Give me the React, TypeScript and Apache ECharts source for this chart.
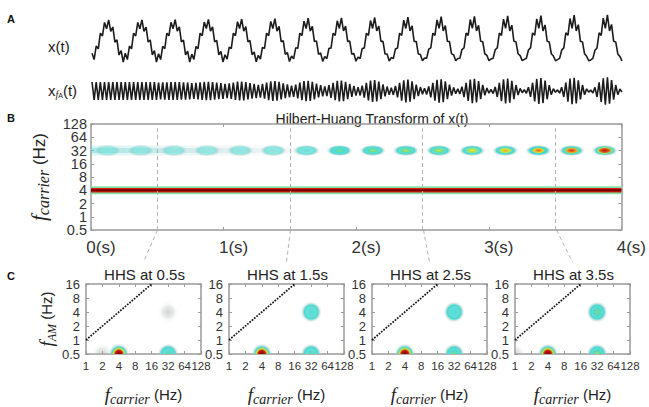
import React, { useEffect, useRef } from 'react';
import * as echarts from 'echarts';

// ---------------- data ----------------
// Panel A: one entry per 4 Hz cycle (16 cycles over 4 s)
const cycleLength = 0.25; // s
const halfCarrier = 1 / 64; // s between carrier extremes (32 Hz)
const slowAmp = [17, 17, 17.2, 17.4, 17.6, 17.8, 18, 18.2, 18.4, 18.6, 18.8, 19, 19.2, 19.4, 19.6, 19.8];
const fastMax = [9, 9, 9, 9.2, 9.5, 10, 10.3, 10.6, 11, 11.4, 11.8, 12.2, 12.6, 13, 13.4, 13.8];
const fastMin = [9, 8.8, 8.4, 7.8, 7, 6.2, 5.4, 4.6, 3.8, 3.2, 2.6, 2, 1.6, 1.2, 1, 0.8];
// shape of one slow cycle and of one AM burst, sampled at the 16 carrier extremes
const slowShape = [-0.98, -0.83, -0.56, -0.2, 0.2, 0.56, 0.83, 0.98, 0.98, 0.83, 0.56, 0.2, -0.2, -0.56, -0.83, -0.98];
const burstShape = [0.01, 0.09, 0.22, 0.4, 0.6, 0.78, 0.92, 0.99, 0.99, 0.92, 0.78, 0.6, 0.4, 0.22, 0.09, 0.01];
const carrierSign = [1, -1];

// Panel B
const hhtTimes = [0.125, 0.375, 0.625, 0.875, 1.125, 1.375, 1.625, 1.875, 2.125, 2.375, 2.625, 2.875, 3.125, 3.375, 3.625, 3.875];
const hhtPower = [0.3, 0.31, 0.32, 0.33, 0.35, 0.37, 0.42, 0.5, 0.56, 0.58, 0.6, 0.66, 0.72, 0.8, 0.86, 0.92];
const carrierHz = 32;
const lowHz = 4;
const bandSpan = [0, 1.9];
const markTimes = [0.5, 1.5, 2.5, 3.5];

// Panel C: [f_carrier, f_AM, power]
const hhsTitles = ['HHS at 0.5s', 'HHS at 1.5s', 'HHS at 2.5s', 'HHS at 3.5s'];
const hhs05 = [[2, 0.5, 0.1], [32, 4, 0.12], [32, 0.5, 0.45], [4, 0.5, 1.0]];
const hhs15 = [[32, 4, 0.36], [32, 0.5, 0.45], [4, 0.5, 1.0]];
const hhs25 = [[32, 4, 0.38], [32, 0.5, 0.5], [4, 0.5, 1.0]];
const hhs35 = [[1, 0.5, 0.1], [32, 4, 0.5], [32, 0.5, 0.55], [4, 0.5, 1.0]];
const hhsBlobs = [hhs05, hhs15, hhs25, hhs35];
const diagonal = [[1, 1], [16, 16]];

// ---------------- layout / style ----------------
const W = 649;
const H = 407;
const SANS = "'Liberation Sans', Arial, sans-serif";
const SERIF = "'Liberation Serif', 'DejaVu Serif', serif";
const TXT = '#222';
const LBL = '#333';
const FRAME = '#9a9a9a';
const gA1 = { left: 91, top: 6, width: 532, height: 70 };
const gA2 = { left: 91, top: 76, width: 532, height: 30 };
const gB = { left: 91, top: 124, width: 532, height: 106 };
const cLefts = [86, 229, 372, 515];
const cTop = 284;
const cW = 115;
const cH = 81;

const ramp: [number, number[]][] = [
  [0.3, [95, 222, 215]],
  [0.42, [70, 215, 200]],
  [0.5, [120, 225, 140]],
  [0.58, [185, 228, 70]],
  [0.66, [245, 225, 40]],
  [0.75, [245, 150, 30]],
  [0.85, [215, 35, 20]],
  [1.0, [125, 0, 0]],
];
function jet(p: number, a = 1) {
  const q = Math.max(ramp[0][0], Math.min(1, p));
  for (let i = 1; i < ramp.length; i++) {
    if (q <= ramp[i][0]) {
      const [p0, c0] = ramp[i - 1];
      const [p1, c1] = ramp[i];
      const f = (q - p0) / (p1 - p0);
      const c = c0.map((v, k) => Math.round(v + (c1[k] - v) * f));
      return `rgba(${c[0]},${c[1]},${c[2]},${a})`;
    }
  }
  return `rgba(125,0,0,${a})`;
}
function stopsFor(p: number, base: number) {
  if (p < 0.25) {
    return [
      { offset: 0, color: 'rgba(170,176,176,0.55)' },
      { offset: 0.5, color: 'rgba(190,195,195,0.35)' },
      { offset: 1, color: 'rgba(255,255,255,0)' },
    ];
  }
  const a = Math.min(1, base + (p - 0.3) * 3);
  return [
    { offset: 0, color: jet(p, a) },
    { offset: 0.32, color: jet(Math.max(0.3, p - 0.12), a) },
    { offset: 0.48, color: jet(Math.max(0.3, p - 0.38), a) },
    { offset: 0.63, color: `rgba(70,215,205,${a})` },
    { offset: 0.82, color: 'rgba(185,205,205,0.4)' },
    { offset: 1, color: 'rgba(255,255,255,0)' },
  ];
}
const blobRender = (rx: number, ry: number, base: number) => (_p: any, api: any) => {
  const c = api.coord([api.value(0), api.value(1)]);
  const p = api.value(2);
  return {
    type: 'circle',
    x: c[0],
    y: c[1],
    scaleX: rx / ry,
    scaleY: 1,
    shape: { cx: 0, cy: 0, r: ry },
    style: { fill: { type: 'radial', x: 0.5, y: 0.5, r: 0.5, colorStops: stopsFor(p, base) } },
  };
};

const frameLine = { show: true, onZero: false, lineStyle: { color: FRAME, width: 1.5 } };
const inTick = { show: true, inside: true, length: 3, lineStyle: { color: FRAME } };
const pow2 = (v: number) => String(Math.pow(2, v));
// alternate labels are split over two axes so that the library keeps all of them
const isOdd = (v: number) => Math.abs(Math.round(v)) % 2 === 1;
const pow2Odd = (v: number) => (isOdd(v) ? pow2(v) : '');
const pow2Even = (v: number) => (isOdd(v) ? '' : pow2(v));
const nameRich = (fs: number, ss: number, hs: number) => ({
  rich: {
    f: { fontFamily: SERIF, fontStyle: 'italic', fontSize: fs, color: TXT, lineHeight: fs + 4 },
    s: { fontFamily: SERIF, fontStyle: 'italic', fontSize: ss, color: TXT, verticalAlign: 'bottom', lineHeight: ss + 2 },
    h: { fontFamily: SANS, fontSize: hs, color: TXT },
  },
});
const lbl = (formatter: any, fontSize: number, margin: number) => ({
  formatter, fontSize, color: LBL, fontFamily: SANS, margin,
  showMinLabel: true, showMaxLabel: true, hideOverlap: false,
});

function buildOption() {
  // Panel A traces
  const xData: number[][] = [];
  const xfaData: number[][] = [];
  for (let k = 0; k < slowAmp.length; k++) {
    for (let j = 0; j < slowShape.length; j++) {
      const t = k * cycleLength + (j + 0.5) * halfCarrier;
      const env = fastMin[k] + (fastMax[k] - fastMin[k]) * burstShape[j];
      const s = carrierSign[j % 2] * env;
      xfaData.push([t, s]);
      xData.push([t, slowAmp[k] * slowShape[j] + 0.5 * s]);
    }
  }

  const cGrids = cLefts.map((l) => ({ left: l, top: cTop, width: cW, height: cH }));
  const grid = [gA1, gA2, gB, ...cGrids];

  const xAxis: any[] = [
    { gridIndex: 0, type: 'value', min: 0, max: 4, show: false },
    { gridIndex: 1, type: 'value', min: 0, max: 4, show: false },
    {
      gridIndex: 2, type: 'value', min: 0, max: 4, interval: 1,
      axisLine: frameLine, axisTick: inTick, splitLine: { show: false },
      axisLabel: { ...lbl((v: number) => `${v}(s)`, 17, 9), padding: [0, 0, 0, 20] },
    },
    {
      gridIndex: 2, type: 'value', position: 'top', min: 0, max: 4, interval: 1,
      axisLine: frameLine, axisTick: inTick, splitLine: { show: false }, axisLabel: { show: false },
    },
  ];
  const yAxis: any[] = [
    { gridIndex: 0, type: 'value', min: -35, max: 35, show: false },
    { gridIndex: 1, type: 'value', min: -15, max: 15, show: false },
    {
      gridIndex: 2, type: 'value', min: -1, max: 7, interval: 1,
      axisLine: frameLine, axisTick: inTick, splitLine: { show: false },
      axisLabel: lbl(pow2Odd, 14.5, 4),
      name: '{f|f}{s|carrier}{h| (Hz)}', nameLocation: 'middle', nameGap: 34,
      nameTextStyle: nameRich(21, 16, 17),
    },
    {
      gridIndex: 2, type: 'value', position: 'right', min: -1, max: 7, interval: 1,
      axisLine: frameLine, axisTick: inTick, splitLine: { show: false }, axisLabel: { show: false },
    },
  ];
  cLefts.forEach((_, i) => {
    xAxis.push({
      gridIndex: 3 + i, type: 'value', min: 0, max: 7, interval: 1,
      axisLine: frameLine, axisTick: inTick, splitLine: { show: false },
      axisLabel: lbl(pow2Even, 11.5, 6),
      name: '{f|f}{s|carrier}{h| (Hz)}', nameLocation: 'middle', nameGap: 29,
      nameTextStyle: nameRich(19, 14, 15),
    });
    yAxis.push({
      gridIndex: 3 + i, type: 'value', min: -1, max: 4, interval: 1,
      axisLine: frameLine, axisTick: inTick, splitLine: { show: false },
      axisLabel: lbl(pow2, 13, 6),
      ...(i === 0
        ? { name: '{f|f}{s|AM}{h| (Hz)}', nameLocation: 'middle', nameGap: 23, nameTextStyle: nameRich(19, 12, 15) }
        : {}),
    });
  });
  cLefts.forEach((_, i) => {
    xAxis.push({
      gridIndex: 3 + i, type: 'value', position: 'top', min: 0, max: 7, interval: 1,
      axisLine: frameLine, axisTick: inTick, splitLine: { show: false }, axisLabel: { show: false },
    });
    yAxis.push({
      gridIndex: 3 + i, type: 'value', position: 'right', min: -1, max: 4, interval: 1,
      axisLine: frameLine, axisTick: inTick, splitLine: { show: false }, axisLabel: { show: false },
    });
  });
  // label-only companion axes (the other half of the tick labels)
  yAxis.push({
    gridIndex: 2, type: 'value', position: 'left', offset: 0, min: -1, max: 7, interval: 1,
    axisLine: { show: false }, axisTick: { show: false }, splitLine: { show: false },
    axisLabel: lbl(pow2Even, 14.5, 4),
  });
  cLefts.forEach((_, i) => {
    xAxis.push({
      gridIndex: 3 + i, type: 'value', position: 'bottom', offset: 0, min: 0, max: 7, interval: 1,
      axisLine: { show: false }, axisTick: { show: false }, splitLine: { show: false },
      axisLabel: lbl(pow2Odd, 11.5, 6),
    });
  });

  const yC = Math.log2(carrierHz);
  const yL = Math.log2(lowHz);
  const series: any[] = [
    {
      type: 'line', xAxisIndex: 0, yAxisIndex: 0, data: xData, symbol: 'none', silent: true,
      lineStyle: { color: '#1c1c1c', width: 1.6 },
    },
    {
      type: 'line', xAxisIndex: 1, yAxisIndex: 1, data: xfaData, symbol: 'none', silent: true,
      lineStyle: { color: '#1c1c1c', width: 1.6 },
    },
    {
      type: 'custom', xAxisIndex: 2, yAxisIndex: 2, silent: true, clip: true,
      data: [[bandSpan[0], yC, bandSpan[1]]],
      renderItem: (_p: any, api: any) => {
        const a = api.coord([api.value(0), api.value(1)]);
        const b = api.coord([api.value(2), api.value(1)]);
        const grad = (al: number) => ({
          type: 'linear', x: 0, y: 0, x2: 1, y2: 0,
          colorStops: [
            { offset: 0, color: `rgba(100,215,210,${al})` },
            { offset: 0.45, color: `rgba(165,210,210,${al * 0.7})` },
            { offset: 1, color: 'rgba(210,210,210,0)' },
          ],
        });
        return {
          type: 'group',
          children: [
            { type: 'rect', shape: { x: a[0], y: a[1] - 5, width: b[0] - a[0], height: 10 }, style: { fill: grad(0.25) } },
            { type: 'rect', shape: { x: a[0], y: a[1] - 2.5, width: b[0] - a[0], height: 5 }, style: { fill: grad(0.45) } },
          ],
        };
      },
    },
    {
      type: 'custom', xAxisIndex: 2, yAxisIndex: 2, silent: true, clip: true,
      data: hhtTimes.map((t, i) => [t, yC, hhtPower[i]]),
      renderItem: blobRender(14, 6, 0.45),
    },
    {
      type: 'line', xAxisIndex: 2, yAxisIndex: 2, data: [[0, yL], [4, yL]], symbol: 'none', silent: true,
      lineStyle: { color: 'rgba(120,222,160,0.9)', width: 8 },
    },
    {
      type: 'line', xAxisIndex: 2, yAxisIndex: 2, data: [[0, yL], [4, yL]], symbol: 'none', silent: true,
      lineStyle: { color: '#d81a10', width: 4.5 },
    },
    {
      type: 'line', xAxisIndex: 2, yAxisIndex: 2, data: [[0, yL], [4, yL]], symbol: 'none', silent: true,
      lineStyle: { color: '#6e0000', width: 2 },
    },
    {
      type: 'line', xAxisIndex: 2, yAxisIndex: 2, data: [], symbol: 'none', silent: true, z: 5,
      markLine: {
        silent: true, symbol: ['none', 'none'], label: { show: false },
        lineStyle: { type: [4, 3], color: '#b4b4b4', width: 1 },
        data: markTimes.map((t) => ({ xAxis: t })),
      },
    },
  ];
  hhsBlobs.forEach((blobs, i) => {
    series.push({
      type: 'custom', xAxisIndex: 4 + i, yAxisIndex: 4 + i, silent: true, clip: true,
      data: blobs.map((b) => [Math.log2(b[0]), Math.log2(b[1]), b[2]]),
      renderItem: blobRender(11, 11, 0.8),
    });
    series.push({
      type: 'line', xAxisIndex: 4 + i, yAxisIndex: 4 + i, symbol: 'none', silent: true,
      data: diagonal.map((d) => [Math.log2(d[0]), Math.log2(d[1])]),
      lineStyle: { color: '#111', width: 1.7, type: [1.7, 1.3] },
    });
  });

  // annotations
  const xB = (t: number) => gB.left + (t / 4) * gB.width;
  const bottomB = gB.top + gB.height;
  const graphic: any[] = [
    { type: 'text', x: 7, y: 19, style: { text: 'A', fontFamily: SANS, fontWeight: 'bold', fontSize: 11, fill: '#111', verticalAlign: 'middle' } },
    { type: 'text', x: 7, y: 118, style: { text: 'B', fontFamily: SANS, fontWeight: 'bold', fontSize: 11, fill: '#111', verticalAlign: 'middle' } },
    { type: 'text', x: 7, y: 276, style: { text: 'C', fontFamily: SANS, fontWeight: 'bold', fontSize: 11, fill: '#111', verticalAlign: 'middle' } },
    { type: 'text', x: 48, y: 46, style: { text: 'x(t)', fontFamily: SANS, fontSize: 15, fill: TXT, verticalAlign: 'middle' } },
    {
      type: 'text', x: 48, y: 90,
      style: {
        text: '{a|x}{b|f}{c|A}{a|(t)}', verticalAlign: 'middle',
        rich: {
          a: { fontFamily: SANS, fontSize: 15, fill: TXT, lineHeight: 18 },
          b: { fontFamily: SERIF, fontStyle: 'italic', fontSize: 10, fill: TXT, verticalAlign: 'bottom', lineHeight: 12 },
          c: { fontFamily: SANS, fontSize: 7, fill: TXT, verticalAlign: 'bottom', lineHeight: 8 },
        },
      },
    },
    {
      type: 'text', x: 372, y: 119,
      style: { text: 'Hilbert-Huang Transform of x(t)', fontFamily: SANS, fontSize: 14, fill: TXT, align: 'center', verticalAlign: 'middle' },
    },
  ];
  hhsTitles.forEach((t, i) => {
    const cx = cLefts[i] + cW / 2;
    graphic.push({
      type: 'text', x: cx + 1, y: 274,
      style: { text: t, fontFamily: SANS, fontSize: 15, fill: TXT, align: 'center', verticalAlign: 'middle' },
    });
    graphic.push({
      type: 'line', silent: true,
      shape: { x1: xB(markTimes[i]), y1: bottomB, x2: cx, y2: 262 },
      style: { stroke: '#b4b4b4', lineWidth: 1, lineDash: [4, 3] },
    });
  });

  return {
    animation: false,
    backgroundColor: '#ffffff',
    grid: grid.map((g) => ({ ...g, containLabel: false })),
    xAxis,
    yAxis,
    series,
    graphic,
  };
}

export default function App() {
  const ref = useRef<HTMLDivElement>(null);
  useEffect(() => {
    const chart = echarts.init(ref.current!, null, { renderer: 'svg' });
    chart.setOption(buildOption() as any);
    return () => chart.dispose();
  }, []);
  return (
    <div
      ref={ref}
      style={{ position: 'fixed', left: 0, top: 0, width: W, height: H, background: '#fff' }}
    />
  );
}
